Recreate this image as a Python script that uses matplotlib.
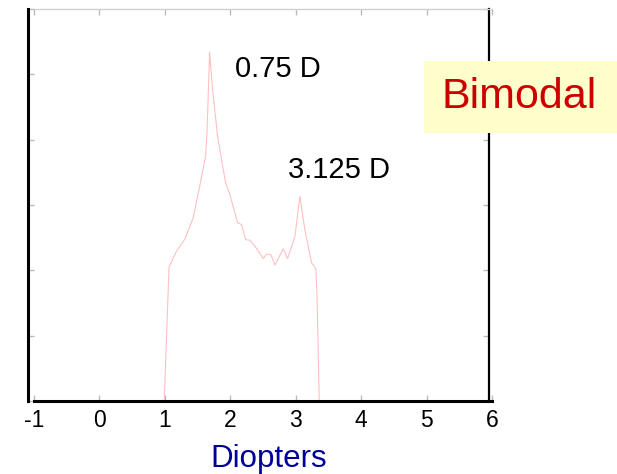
import matplotlib
matplotlib.use('Agg')
import matplotlib.pyplot as plt
from matplotlib.patches import Rectangle

plt.rcParams['font.family'] = ['Liberation Sans', 'DejaVu Sans']

# refraction distribution (diopters vs relative frequency)
diopters = [-1.0, 0.99, 1.064, 1.176, 1.308, 1.435, 1.553, 1.623, 1.644, 1.684,
            1.725, 1.806, 1.928, 1.985, 2.111, 2.173, 2.234, 2.301, 2.377,
            2.504, 2.554, 2.621, 2.682, 2.809, 2.875, 2.988, 3.064, 3.140,
            3.241, 3.308, 3.328, 3.359, 5.4]
freq = [0, 0, 2.05, 2.29, 2.48, 2.81, 3.39, 3.75, 4.11, 5.34,
        4.82, 4.05, 3.34, 3.19, 2.73, 2.70, 2.47, 2.46, 2.37,
        2.18, 2.25, 2.24, 2.08, 2.33, 2.18, 2.52, 3.13, 2.62,
        2.12, 2.02, 1.55, 0, 0]

xticks = [-1, 0, 1, 2, 3, 4, 5, 6]
yticks = [0, 1, 2, 3, 4, 5, 6]

fig = plt.figure(figsize=(6.17, 4.74), dpi=100)
ax = fig.add_axes([34 / 617, 1 - 401 / 474, 458 / 617, 392 / 474])

ax.plot(diopters, freq, color='#ffc0c0', lw=0.8)

ax.set_xlim(-1, 6)
ax.set_ylim(0, 6)
ax.set_xticks(xticks)
ax.set_xticklabels([str(t) for t in xticks])
ax.set_yticks(yticks)
ax.set_yticklabels([])
ax.tick_params(direction='in', top=True, right=True, color='#bbbbbb',
               length=4, width=1, labelsize=16.5, pad=6)

ax.spines['left'].set_position(('outward', 4))
ax.spines['right'].set_position(('axes', 0.994))
ax.spines['left'].set_linewidth(2.2)
ax.spines['bottom'].set_linewidth(2.2)
ax.spines['right'].set_linewidth(1.6)
ax.spines['top'].set_color('#d0d0d0')
ax.spines['top'].set_linewidth(1.0)

ax.set_xlabel('Diopters', fontsize=22.5, color='#000099')
ax.xaxis.set_label_coords(0.512, -0.11)

ax.text(2.72, 5.08, '0.75 D', fontsize=21, ha='center', va='center')
ax.text(3.66, 3.53, '3.125 D', fontsize=21, ha='center', va='center')

# label box in the upper right
fig.patches.append(Rectangle((424 / 617, 1 - 133 / 474), 193 / 617, 72 / 474,
                             transform=fig.transFigure, facecolor='#ffffcc',
                             edgecolor='none', zorder=5))
fig.text(519 / 617, 1 - 97 / 474, 'Bimodal', fontsize=31, color='#cc0000',
         ha='center', va='center', zorder=6)

fig.savefig('out.png', dpi=100)
